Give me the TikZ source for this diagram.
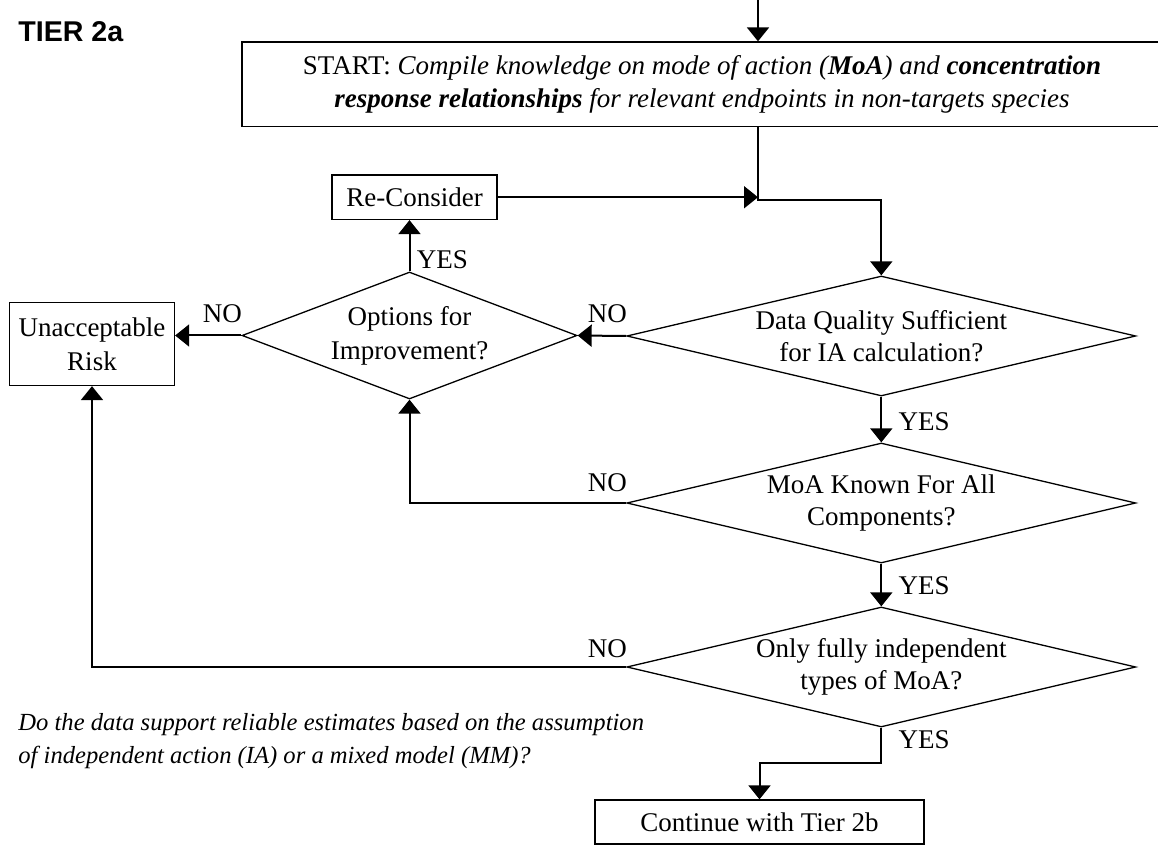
\documentclass[tikz,border=0pt]{standalone}
\usepackage{fontspec}
\setmainfont{Liberation Serif}
\newfontfamily\headfont{Liberation Sans}
\usetikzlibrary{arrows.meta,shapes.geometric}

\begin{document}
\begin{tikzpicture}[x=0.5pt,y=-0.5pt,
  box/.style={draw,line width=0.65pt,rectangle,inner sep=0pt,align=center,
    font=\fontsize{13.5}{17}\selectfont},
  decision/.style={draw,line width=0.65pt,shape=diamond,inner sep=0pt},
  dtext/.style={align=center,inner sep=0pt,font=\fontsize{13.5}{16}\selectfont},
  conn/.style={line width=1pt,-{Triangle[length=7pt,width=11pt]}},
  answer/.style={font=\fontsize{13.5}{16}\selectfont,inner sep=0pt},
  note/.style={font=\itshape\fontsize{12.3}{15}\selectfont,inner sep=0pt,anchor=base west},
]
% page area
\fill[white] (0,0) rectangle (1158,845);
\useasboundingbox (0,0) rectangle (1158,845);

% heading
\node[anchor=base west,inner sep=0pt,font=\headfont\bfseries\fontsize{14.3}{17}\selectfont] (tier) at (18,42) {TIER 2a};

% boxes
\node[box,minimum width=460pt,minimum height=42.25pt,font=\fontsize{13.5}{16.5}\selectfont] (start) at (702,84.25)
  {START: \textit{Compile knowledge on mode of action (\textbf{MoA}) and \textbf{concentration}}\\
   \textit{\textbf{response relationships} for relevant endpoints in non-targets species}};
\node[box,minimum width=82.5pt,minimum height=22.25pt] (recon) at (414.5,197.25) {Re-Consider};
\node[box,minimum width=82.5pt,minimum height=41.5pt] (risk) at (92,344) {Unacceptable\\Risk};
\node[box,minimum width=164.5pt,minimum height=22pt] (cont) at (759.5,822) {Continue with Tier 2b};

% decisions
\node[decision,minimum width=167.5pt,minimum height=63.5pt] (opt) at (409.5,335.5) {};
\node[dtext,font=\fontsize{13.5}{17}\selectfont] (opttext) at (opt.center) {Options for\\Improvement?};
\node[decision,minimum width=254.5pt,minimum height=60pt] (dq) at (881.3,336) {};
\node[dtext] (dqtext) at (dq.center) {Data Quality Sufficient\\for IA calculation?};
\node[decision,minimum width=254.5pt,minimum height=60pt] (moa) at (881.3,503) {};
\node[dtext] (moatext) at (moa.center) {MoA Known For All\\Components?};
\node[decision,minimum width=254.5pt,minimum height=60pt] (only) at (881.3,667) {};
\node[dtext] (onlytext) at (only.center) {Only fully independent\\types of MoA?};

% connectors
\coordinate (entry) at (758,0);
\coordinate (jn) at (758,200);
\draw[conn] (entry) -- (entry |- start.north);
\draw[conn] (start.south -| jn) -- (jn) -| (dq.north);
\draw[conn] (recon.east) -- (recon.east -| jn);
\draw[conn] (opt.north) -- (opt.north |- recon.south);
\draw[conn] (dq.west) -- (opt.east);
\draw[conn] (opt.west) -- (opt.west -| risk.east);
\draw[conn] (dq.south) -- (moa.north);
\draw[conn] (moa.west) -| (opt.south);
\draw[conn] (moa.south) -- (only.north);
\draw[conn] (only.west) -| (risk.south);
\draw[conn] (only.south) -- ++(0,35) -| (cont.north);

% answers
\node[answer,anchor=base west] (yes1) at ([shift={(7,-3)}]opt.north) {YES};
\node[answer,anchor=base east] (no1) at ([shift={(1,-13)}]opt.west) {NO};
\node[answer,anchor=base east] (no2) at ([shift={(1,-13)}]dq.west) {NO};
\node[answer,anchor=base west] (yes2) at ([shift={(17,34)}]dq.south) {YES};
\node[answer,anchor=base east] (no3) at ([shift={(1,-11)}]moa.west) {NO};
\node[answer,anchor=base west] (yes3) at ([shift={(17,31)}]moa.south) {YES};
\node[answer,anchor=base east] (no4) at ([shift={(1,-10)}]only.west) {NO};
\node[answer,anchor=base west] (yes4) at ([shift={(17,21)}]only.south) {YES};

% question note
\node[note] (q1) at (18,730) {Do the data support reliable estimates based on the assumption};
\node[note] (q2) at (18,763) {of independent action (IA) or a mixed model (MM)?};
\end{tikzpicture}
\end{document}
